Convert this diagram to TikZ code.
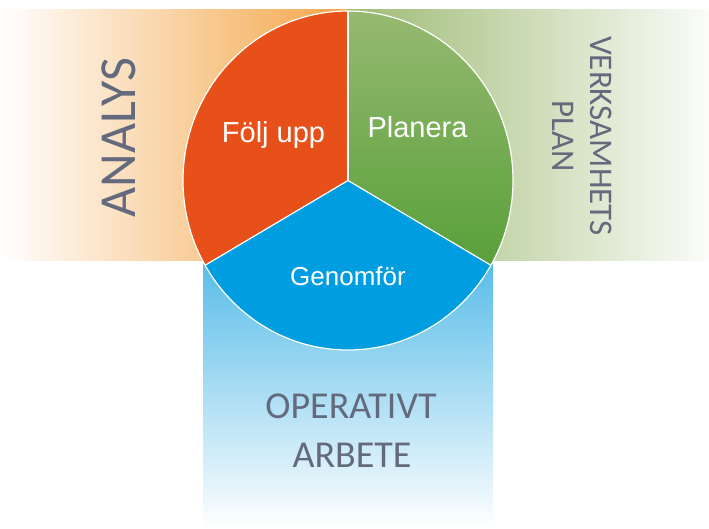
\documentclass[tikz,border=0pt]{standalone}
\usepackage{fontspec}
\usetikzlibrary{calc}
\setmainfont{Liberation Sans}
\newfontfamily\bandfont{Carlito}
\definecolor{orangeband}{RGB}{243,166,72}
\definecolor{greenband}{RGB}{158,186,116}
\definecolor{blueband}{RGB}{88,188,232}
\definecolor{orangesec}{RGB}{232,80,26}
\definecolor{greentop}{RGB}{150,185,112}
\definecolor{greenbot}{RGB}{88,160,58}
\definecolor{bluesec}{RGB}{0,158,224}
\definecolor{labelgray}{RGB}{100,106,125}
\begin{document}
\begin{tikzpicture}[x=1pt,y=1pt,
  outline/.style={draw=white, line width=1.2pt},
  seclabel/.style={text=white, anchor=base, inner sep=0pt},
  bandlabel/.style={text=labelgray, anchor=base, inner sep=0pt}]
\useasboundingbox (0,0) rectangle (709,528);
\fill[white] (0,0) rectangle (709,528);
% bands
\shade[left color=white, right color=orangeband] (0,267) rectangle (348,518);
\shade[left color=greenband, right color=white!96!greenband] (348,267) rectangle (709,518);
\shade[top color=blueband, bottom color=white] (203,0) rectangle (493,267);
% circle sectors
\coordinate (c) at (348,347.5);
\coordinate (ptop) at ($(c)+(90:165 and 169.5)$);
\coordinate (pleft) at ($(c)+(210:165 and 169.5)$);
\coordinate (pright) at ($(c)+(330:165 and 169.5)$);
\fill[orangesec] (c) -- (ptop) arc[start angle=90,end angle=210,x radius=165,y radius=169.5] -- cycle;
\shade[top color=greentop, bottom color=greenbot] (c) -- (ptop) arc[start angle=90,end angle=-30,x radius=165,y radius=169.5] -- cycle;
\fill[bluesec] (c) -- (pleft) arc[start angle=210,end angle=330,x radius=165,y radius=169.5] -- cycle;
\draw[outline] (c) ellipse[x radius=165,y radius=169.5];
\draw[outline] (c) -- (ptop);
\draw[outline] (c) -- (pleft);
\draw[outline] (c) -- (pright);
% sector labels
\node[seclabel, font=\fontsize{29}{33}\selectfont] (folj) at (273.5,385) {Följ upp};
\node[seclabel, font=\fontsize{29}{33}\selectfont] (plan) at (417.5,390) {Planera};
\node[seclabel, font=\fontsize{26}{30}\selectfont] (genom) at (348,242) {Genomför};
% band labels
\node[bandlabel, rotate=90, font=\bandfont\fontsize{52}{60}\selectfont] (analys) at (135,390.5) {ANALYS};
\node[bandlabel, rotate=-90, font=\bandfont\fontsize{33}{38}\selectfont] (verks) at (590,392) {VERKSAMHETS};
\node[bandlabel, rotate=-90, font=\bandfont\fontsize{33}{38}\selectfont] (planl) at (552,391.5) {PLAN};
\node[bandlabel, font=\bandfont\fontsize{38}{44}\selectfont] (oper) at (351,110) {OPERATIVT};
\node[bandlabel, font=\bandfont\fontsize{38}{44}\selectfont] (arb) at (352,61) {ARBETE};
\end{tikzpicture}
\end{document}
